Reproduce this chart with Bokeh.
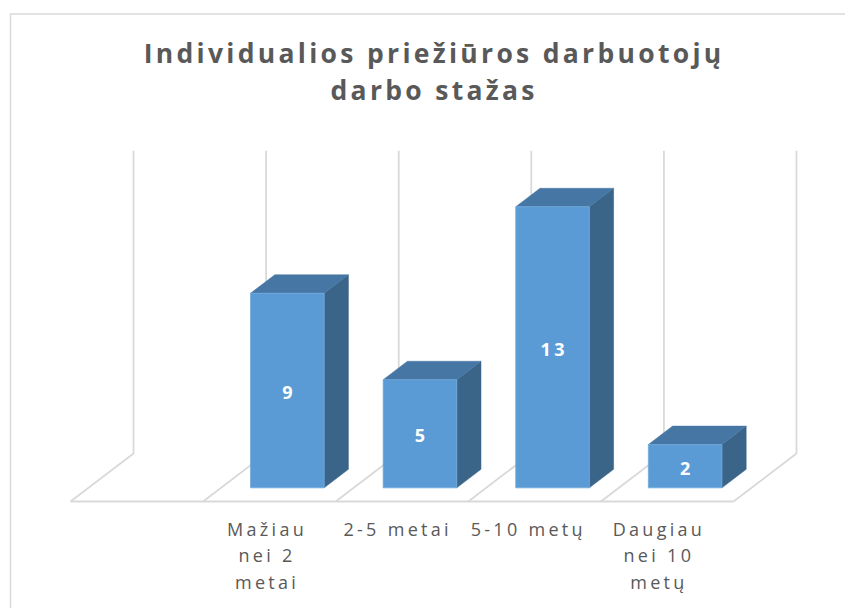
from bokeh.plotting import figure
from bokeh.models import Range1d, InlineStyleSheet
from bokeh.core.properties import value
from bokeh.embed import file_html
from bokeh.resources import INLINE

# ---- data ----
categories = ["", "Mažiau nei 2 metai", "2-5 metai", "5-10 metų", "Daugiau nei 10 metų"]
tick_lines = [[], ["Mažiau", "nei 2", "metai"], ["2-5 metai"], ["5-10 metų"], ["Daugiau", "nei 10", "metų"]]
values = [None, 9, 5, 13, 2]
axis_max = 14
title_lines = ["Individualios priežiūros darbuotojų", "darbo stažas"]

# ---- geometry / style ----
W, H = 845, 608
SX = 132.6          # px per category slot
SY = 21.62          # px per value unit
X0 = 70.0           # px of slot 0 front
Y0 = 501.0          # px of value 0 at floor front
DDX = 63.0 / SX     # oblique shift (slots) per unit depth
DDY = 48.0 / SY     # oblique shift (value units) per unit depth
D0, D1 = 0.285, 0.67
BAR_W = 0.555
GRID = "#D9D9D9"
TXT = "#595959"
FRONT = "#5B9BD5"
TOP = "#4677A4"
SIDE = "#3A6488"
FONT = "Open Sans"
LS = 3.3            # letter spacing, px
LABEL_SHIFT = -0.015  # label drift per category (slots)
LABEL_BIAS = -0.015


def cx(px):
    return (px - X0) / SX


def cy(py):
    return (Y0 - py) / SY


def proj(x, v, d):
    return x + d * DDX, v + d * DDY


def xoff(t):
    return -(len(t) - 1) * LS / 2


p = figure(width=W, height=H, x_range=Range1d(cx(0), cx(W)), y_range=Range1d(cy(H), cy(0)),
           output_backend="svg", toolbar_location=None, x_axis_type=None, y_axis_type=None,
           min_border=0, outline_line_color=None, background_fill_color="white",
           border_fill_color="white")
p.grid.visible = False
p.stylesheets = [InlineStyleSheet(css=":host { letter-spacing: %.1fpx; }" % LS)]

# chart-area border (cut off at right and bottom)
p.line([cx(10), cx(10), cx(W + 20)], [cy(H + 20), cy(13.5), cy(13.5)], line_color=GRID, line_width=1.5)

n = len(categories)
# floor front edge
p.line([0, n], [0, 0], line_color=GRID, line_width=1.8)
# floor diagonals and back-wall verticals
for i in range(n + 1):
    xb, yb = proj(i, 0, 1)
    xt, yt = proj(i, axis_max, 1)
    p.line([i, xb, xt], [0, yb, yt], line_color=GRID, line_width=1.8)

# bars
for i, v in enumerate(values):
    if v is None:
        continue
    c = i + 0.5
    xl, xr = c - BAR_W / 2, c + BAR_W / 2
    # side face
    pts = [proj(xr, 0, D0), proj(xr, v, D0), proj(xr, v, D1), proj(xr, 0, D1)]
    p.patch([q[0] for q in pts], [q[1] for q in pts], fill_color=SIDE, line_color=SIDE, line_width=0.5)
    # top face
    pts = [proj(xl, v, D0), proj(xr, v, D0), proj(xr, v, D1), proj(xl, v, D1)]
    p.patch([q[0] for q in pts], [q[1] for q in pts], fill_color=TOP, line_color=TOP, line_width=0.5)
    # front face
    fl, fb = proj(xl, 0, D0)
    fr, ft = proj(xr, v, D0)
    p.quad(left=fl, right=fr, bottom=fb, top=ft, fill_color=FRONT, line_color="#6FA8DC", line_width=0.8)
    # value label
    lx, ly = proj(c, v / 2, D0)
    p.text([lx], [ly], text=[str(v)], text_color="white", text_font=value(FONT),
           text_font_style="bold", text_font_size="18px", text_align="center",
           text_baseline="middle", x_offset=xoff(str(v)), y_offset=2)

# category labels
LABEL_BASE = [528, 554.5, 581]
for i, lines in enumerate(tick_lines):
    for j, t in enumerate(lines):
        p.text([i + 0.5 + LABEL_BIAS + LABEL_SHIFT * i], [cy(LABEL_BASE[j])], text=[t], text_color=TXT,
               text_font=value(FONT), text_font_size="18px", text_align="center",
               text_baseline="alphabetic", x_offset=xoff(t))

# title
TITLE_BASE = [52.5, 89.5]
for j, t in enumerate(title_lines):
    p.text([cx(432)], [cy(TITLE_BASE[j])], text=[t], text_color=TXT, text_font=value(FONT),
           text_font_style="bold", text_font_size="26.5px", text_align="center",
           text_baseline="alphabetic", x_offset=xoff(t))

open("out.html", "w").write(file_html(p, INLINE))
